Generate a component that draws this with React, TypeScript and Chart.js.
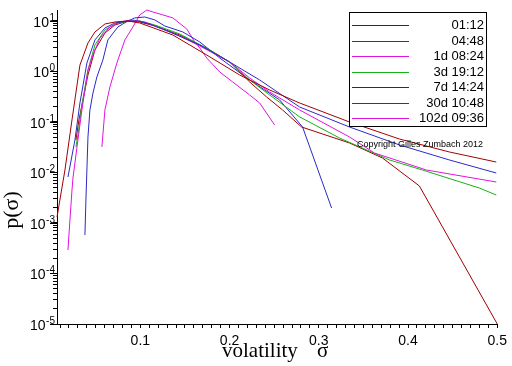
import React, { useEffect, useRef } from 'react';
import { Chart, registerables } from 'chart.js';

Chart.register(...registerables);

const seriesLabels = ['01:12', '04:48', '1d 08:24', '3d 19:12', '7d 14:24', '30d 10:48', '102d 09:36'];
const seriesColors = ['#a00000', '#2a2ac8', '#e014e0', '#18b018', '#a00000', '#2a2ac8', '#e014e0'];

const sigma0112 = [0.0066, 0.0155, 0.0234, 0.0323, 0.0413, 0.0491, 0.0603, 0.0715, 0.0860, 0.0994, 0.1364, 0.1744, 0.2113, 0.2449, 0.2785, 0.3344, 0.3904, 0.4463, 0.4989];
const p0112 = [0.00131, 0.0112, 0.110, 1.34, 3.67, 6.06, 8.72, 9.55, 10.0, 9.13, 5.28, 2.12, 0.853, 0.430, 0.238, 0.100, 0.0460, 0.0255, 0.0161];

const sigma0448 = [0.0189, 0.0267, 0.0323, 0.0401, 0.0491, 0.0603, 0.0715, 0.0860, 0.0972, 0.1106, 0.1330, 0.1666, 0.2001, 0.2337, 0.2785, 0.3344, 0.3904, 0.4463, 0.4989];
const p0448 = [0.00815, 0.0440, 0.238, 1.47, 4.21, 7.27, 9.13, 10.0, 10.0, 8.72, 6.06, 3.35, 1.54, 0.679, 0.198, 0.0796, 0.0351, 0.0177, 0.00977];

const sigma1d = [0.0189, 0.0211, 0.0234, 0.0245, 0.0290, 0.0345, 0.0413, 0.0469, 0.0547, 0.0659, 0.0771, 0.0905, 0.1050, 0.1218, 0.1442, 0.1666, 0.2001, 0.2225, 0.2449, 0.2785, 0.3344, 0.3624, 0.4206, 0.4989];
const p1d = [0.000292, 0.00115, 0.00450, 0.00778, 0.0320, 0.173, 1.07, 2.12, 4.60, 7.61, 9.55, 10.5, 9.55, 7.27, 5.05, 3.20, 1.54, 0.743, 0.393, 0.173, 0.0505, 0.0243, 0.0112, 0.00648];

const sigma3d = [0.0278, 0.0301, 0.0345, 0.0413, 0.0491, 0.0603, 0.0715, 0.0860, 0.0994, 0.1162, 0.1442, 0.1778, 0.2001, 0.2225, 0.2449, 0.2785, 0.3232, 0.3792, 0.4161, 0.4799, 0.4989];
const p3d = [0.0320, 0.0553, 0.217, 1.07, 3.35, 6.64, 8.72, 10.0, 10.0, 8.33, 5.53, 2.67, 1.54, 0.679, 0.343, 0.126, 0.0482, 0.0177, 0.0112, 0.00493, 0.00358];

const sigma7d = [0.0278, 0.0312, 0.0357, 0.0413, 0.0491, 0.0603, 0.0715, 0.0860, 0.0994, 0.1162, 0.1442, 0.1778, 0.2001, 0.2225, 0.2415, 0.2594, 0.2807, 0.3344, 0.3713, 0.4127, 0.5];
const p7d = [0.0440, 0.110, 0.273, 0.853, 2.67, 5.78, 8.33, 10.0, 9.55, 7.96, 5.28, 2.67, 1.54, 0.620, 0.313, 0.173, 0.0796, 0.0384, 0.0194, 0.00541, 0.00001];

const sigma30d = [0.0379, 0.0390, 0.0401, 0.0413, 0.0435, 0.0469, 0.0513, 0.0580, 0.0636, 0.0748, 0.0860, 0.0938, 0.1050, 0.1162, 0.1274, 0.1476, 0.1666, 0.1890, 0.2225, 0.2561, 0.2818, 0.3143];
const p30d = [0.000578, 0.00285, 0.0112, 0.0505, 0.173, 0.375, 0.778, 1.69, 4.21, 7.61, 10.0, 11.5, 12.0, 10.5, 7.96, 6.06, 3.84, 1.85, 0.679, 0.273, 0.0796, 0.00198];

const sigma102d = [0.0569, 0.0603, 0.0659, 0.0737, 0.0827, 0.0916, 0.0994, 0.1073, 0.1140, 0.1252, 0.1364, 0.1520, 0.1610, 0.1666, 0.1744, 0.1890, 0.2035, 0.2225, 0.2337, 0.2505];
const p102d = [0.0320, 0.173, 0.493, 1.47, 4.21, 7.61, 13.2, 16.5, 15.1, 13.2, 11.5, 6.95, 3.84, 2.92, 1.85, 0.977, 0.620, 0.343, 0.238, 0.0873];

const seriesSigma = [sigma0112, sigma0448, sigma1d, sigma3d, sigma7d, sigma30d, sigma102d];
const seriesP = [p0112, p0448, p1d, p3d, p7d, p30d, p102d];

const xTickLabels = ['0.1', '0.2', '0.3', '0.4', '0.5'];
const yExponents = [1, 0, -1, -2, -3, -4, -5];
const xTitle = 'volatility';
const xTitleSymbol = 'σ';
const yTitle = 'p(σ)';
const copyright = 'Copyright Gilles Zumbach 2012';

const X_MIN = 0.0066;
const X_MAX = 0.5;
const Y_MIN = 1e-5;
const Y_MAX = 16.5;

const SANS = '"Liberation Sans", Arial, sans-serif';
const SERIF = '"Liberation Serif", "Times New Roman", serif';

const overlayPlugin = {
  id: 'overlay',
  afterDraw(chart: any) {
    const ctx = chart.ctx as CanvasRenderingContext2D;
    const ys = chart.scales.y;
    const area = chart.chartArea;
    ctx.save();

    ctx.strokeStyle = '#000';
    ctx.lineWidth = 1;
    ctx.fillStyle = '#000';
    yExponents.forEach((e) => {
      const py = Math.round(ys.getPixelForValue(Math.pow(10, e))) + 0.5;
      ctx.strokeStyle = '#000';
      ctx.beginPath();
      ctx.moveTo(area.left - 7, py);
      ctx.lineTo(area.left, py);
      ctx.stroke();
      const expStr = String(e);
      ctx.font = '10px ' + SANS;
      const ew = ctx.measureText(expStr).width;
      ctx.font = '14px ' + SANS;
      const bw = ctx.measureText('10').width;
      const right = 55;
      ctx.textAlign = 'left';
      ctx.textBaseline = 'alphabetic';
      ctx.fillText('10', right - ew - bw - 0.5, py + 5);
      ctx.font = '10px ' + SANS;
      ctx.fillText(expStr, right - ew, py - 1);
    });

    ctx.save();
    ctx.translate(12, 210);
    ctx.rotate(-Math.PI / 2);
    ctx.font = '22px ' + SERIF;
    ctx.textAlign = 'center';
    ctx.textBaseline = 'middle';
    ctx.fillText(yTitle, 0, 0);
    ctx.restore();

    ctx.font = '21px ' + SERIF;
    ctx.textAlign = 'left';
    ctx.textBaseline = 'alphabetic';
    ctx.fillText(xTitle, 222, 357);
    ctx.fillText(xTitleSymbol, 317, 357);

    const bx = 349.5, by = 12.5, bw2 = 137, bh = 114;
    ctx.fillStyle = '#fff';
    ctx.fillRect(bx, by, bw2, bh);
    ctx.strokeStyle = '#000';
    ctx.strokeRect(bx, by, bw2, bh);
    ctx.font = '13px ' + SANS;
    ctx.textAlign = 'right';
    ctx.textBaseline = 'middle';
    seriesLabels.forEach((lab, i) => {
      const ry = Math.round(25 + i * 15.55) + 0.5;
      ctx.strokeStyle = seriesColors[i];
      ctx.lineWidth = 1;
      ctx.beginPath();
      ctx.moveTo(352, ry);
      ctx.lineTo(409, ry);
      ctx.stroke();
      ctx.fillStyle = '#000';
      ctx.fillText(lab, 484, ry);
    });

    ctx.font = '9px ' + SANS;
    ctx.textAlign = 'center';
    ctx.textBaseline = 'alphabetic';
    ctx.fillStyle = '#000';
    ctx.fillText(copyright, 420, 147);

    ctx.restore();
  },
};

export default function App() {
  const canvasRef = useRef<HTMLCanvasElement | null>(null);

  useEffect(() => {
    const canvas = canvasRef.current;
    if (!canvas) return;

    const datasets = seriesLabels.map((label, i) => ({
      label,
      data: seriesSigma[i].map((s, j) => ({ x: s, y: seriesP[i][j] })),
      borderColor: seriesColors[i],
      backgroundColor: seriesColors[i],
      borderWidth: 1,
      pointRadius: 0,
      fill: false,
      tension: 0,
      clip: 4,
    }));

    const chart = new Chart(canvas, {
      type: 'line',
      data: { datasets },
      options: {
        animation: false,
        responsive: true,
        maintainAspectRatio: false,
        layout: { padding: { top: 10, right: 14, left: 0, bottom: 0 } },
        plugins: {
          legend: { display: false },
          tooltip: { enabled: false },
        },
        scales: {
          x: {
            type: 'linear',
            min: X_MIN,
            max: X_MAX,
            afterBuildTicks: (scale: any) => {
              const t: any[] = [];
              for (let k = 1; k <= 50; k++) t.push({ value: k / 100 });
              scale.ticks = t;
            },
            afterFit: (scale: any) => {
              scale.height = 42;
            },
            grid: {
              display: true,
              drawOnChartArea: false,
              drawTicks: true,
              tickLength: 4,
              color: '#000',
            },
            border: { display: true, color: '#000', width: 1 },
            ticks: {
              autoSkip: false,
              maxRotation: 0,
              padding: 5,
              color: '#000',
              font: { family: SANS, size: 14 },
              callback: (value: any) => {
                const v = Number(value);
                const lab = v.toFixed(1);
                return Math.abs(v * 10 - Math.round(v * 10)) < 1e-6 && xTickLabels.includes(lab) ? lab : '';
              },
            },
          },
          y: {
            type: 'logarithmic',
            min: Y_MIN,
            max: Y_MAX,
            afterBuildTicks: (scale: any) => {
              const t: any[] = [];
              for (let e = -5; e <= 1; e++) {
                for (let m = 1; m <= 9; m++) {
                  const v = m * Math.pow(10, e);
                  if (v >= Y_MIN && v <= Y_MAX) t.push({ value: v });
                }
              }
              scale.ticks = t;
            },
            afterFit: (scale: any) => {
              scale.width = 57;
            },
            grid: {
              display: true,
              drawOnChartArea: false,
              drawTicks: true,
              tickLength: 4,
              color: '#000',
            },
            border: { display: true, color: '#000', width: 1 },
            ticks: { display: false, autoSkip: false },
          },
        },
      },
      plugins: [overlayPlugin],
    });

    return () => {
      chart.destroy();
    };
  }, []);

  return (
    <div style={{ position: 'fixed', left: 0, top: 0, width: 512, height: 366, background: '#fff' }}>
      <canvas ref={canvasRef} />
    </div>
  );
}
